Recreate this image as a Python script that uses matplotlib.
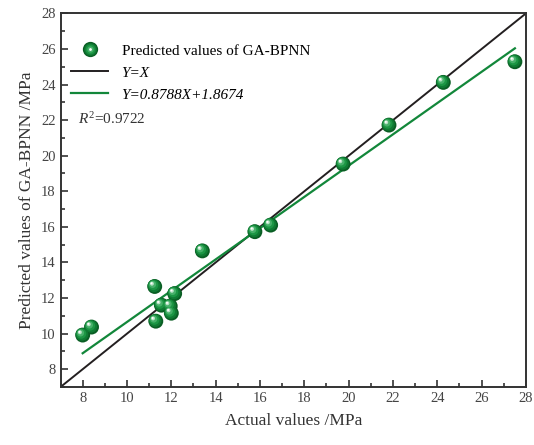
import numpy as np
import matplotlib
matplotlib.use("Agg")
import matplotlib.pyplot as plt
from matplotlib.lines import Line2D
from matplotlib.legend_handler import HandlerTuple
from matplotlib.ticker import MultipleLocator
import matplotlib.transforms as mtransforms

plt.rcParams['font.family'] = ['Liberation Serif', 'DejaVu Serif']
plt.rcParams['mathtext.fontset'] = 'custom'
plt.rcParams['mathtext.rm'] = 'Liberation Serif'
plt.rcParams['mathtext.it'] = 'Liberation Serif:italic'

# measured vs. predicted strength
actual = [8.0, 8.4, 11.25, 11.3, 11.55, 11.95, 12.0, 12.15, 13.4, 15.77, 16.48, 19.75, 21.82, 24.27, 27.5]
predicted = [9.92, 10.37, 12.65, 10.7, 11.6, 11.55, 11.15, 12.25, 14.65, 15.73, 16.1, 19.53, 21.72, 24.12, 25.28]

slope = 0.8788
intercept = 1.8674
r2 = 0.9722
fit_x = [8.0, 27.5]
diag = [7, 28]

green = '#12873a'
dark = '#231f20'

fig = plt.figure(figsize=(5.34, 4.45), dpi=100)
ax = fig.add_axes([0.1133, 0.1303, 0.8717, 0.8397])

ax.plot(diag, diag, color=dark, lw=1.4, zorder=2)
ax.plot(fit_x, [slope * v + intercept for v in fit_x], color=green, lw=1.6, zorder=2)

# shaded spheres: stacked discs shifted toward the upper-left highlight
shades = [(115, '#0a5e24', 0.0), (84, '#0f7a33', 0.5), (52, '#1c9644', 1.0),
          (26, '#47b06a', 1.5), (8, '#b9e2c6', 2.0), (2, '#ffffff', 2.3)]
for s, c, off in shades:
    tr = mtransforms.offset_copy(ax.transData, fig=fig, x=-off, y=off, units='points')
    ax.scatter(actual, predicted, s=s, color=c, edgecolors='none', transform=tr, zorder=3)

ax.set_xlim(7, 28)
ax.set_ylim(7, 28)
ax.xaxis.set_minor_locator(MultipleLocator(1))
ax.yaxis.set_minor_locator(MultipleLocator(1))
ax.set_xticks(np.arange(8, 29, 2))
ax.set_yticks(np.arange(8, 29, 2))
ax.tick_params(which='both', direction='in', top=False, right=False,
               colors='#333333', labelcolor='#444444', labelsize=10.5, width=1.2)
ax.tick_params(which='major', length=5)
ax.tick_params(which='minor', length=3)
for sp in ax.spines.values():
    sp.set_linewidth(1.4)
    sp.set_color('#333333')

ax.set_xlabel('Actual values /MPa', fontsize=12.5, color='#333333', labelpad=6)
ax.set_ylabel('Predicted values of GA-BPNN /MPa', fontsize=12.5, color='#333333', labelpad=4)

h_pt = tuple(Line2D([], [], ls='none', marker='o', markersize=m, color=c, markeredgewidth=0)
             for m, c in [(11, '#0a5e24'), (9, '#0f7a33'), (7, '#1c9644'), (4.5, '#47b06a'), (2, '#ffffff')])
h_xy = Line2D([], [], color=dark, lw=1.4)
h_fit = Line2D([], [], color=green, lw=1.6)
leg = ax.legend([h_pt, h_xy, h_fit],
                ['Predicted values of GA-BPNN', 'Y=X', f'Y={slope}X+{intercept}'],
                handler_map={tuple: HandlerTuple(ndivide=1, pad=0)},
                loc='upper left', bbox_to_anchor=(0.0, 0.947), frameon=False, fontsize=11,
                handlelength=2.4, handletextpad=0.9, labelspacing=0.55, borderaxespad=0.3)
for t in leg.get_texts()[1:]:
    t.set_fontstyle('italic')
ax.text(0.037, 0.716, f'$R^2$={r2}', transform=ax.transAxes, fontsize=11, color='#333333',
        va='center', ha='left')

fig.savefig('out.png', dpi=100)
